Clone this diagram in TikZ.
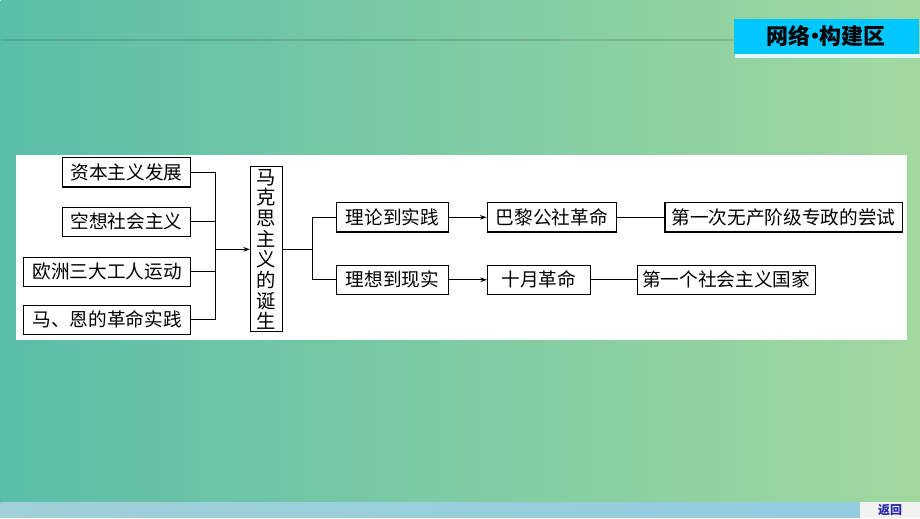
\documentclass[tikz,border=0pt]{standalone}
\usepackage{fontspec}
\newfontfamily\cjk{Noto Sans CJK SC}
\usetikzlibrary{arrows.meta, positioning}
\definecolor{bgleft}{RGB}{90,190,168}
\definecolor{bgright}{RGB}{162,216,160}
\definecolor{titlecyan}{RGB}{0,200,255}
\definecolor{stripleft}{RGB}{160,208,216}
\definecolor{stripright}{RGB}{144,204,224}
\definecolor{backblue}{RGB}{40,40,170}

\begin{document}
\begin{tikzpicture}[x=0.75pt, y=-0.75pt,
    box/.style={draw, line width=0.8pt, fill=white, inner sep=0pt,
        minimum height=22pt, font=\cjk\fontsize{14}{16}\selectfont},
    link/.style={line width=0.8pt},
    push/.style={line width=0.8pt, -{Stealth[length=5pt, width=3.5pt]}}]
    % Background
    \shade[left color=bgleft, right color=bgright] (0, 0) rectangle (920, 518);
    \draw[black, opacity=0.12, line width=1pt] (0, 40) -- (735, 40);
    \shade[left color=stripleft, right color=stripright] (0, 503) rectangle (920, 518);

    % Title
    \fill[white!88!titlecyan] (735, 54) rectangle (920, 58);
    \node[fill=titlecyan, inner sep=0pt, minimum width=138.75pt, minimum height=26pt,
        font=\cjk\bfseries\fontsize{16.5}{18}\selectfont] (title) at (826, 36.5)
        {网络\kern-5pt·\kern-5pt构建区};

    % Back button
    \node[fill=white!95!black, inner sep=0pt, minimum width=45pt, minimum height=12pt,
        text=backblue, font=\cjk\bfseries\fontsize{9}{10}\selectfont] (back) at (890, 510.5) {返回};

    % Panel
    \fill[white] (15, 155) rectangle (907, 340);

    % Causes
    \node[box, minimum width=96pt] (capital) at (126, 172.5) {资本主义发展};
    \node[box, minimum width=96pt] (utopia) at (126, 222) {空想社会主义};
    \node[box, minimum width=125pt] (workers) at (106.5, 272) {欧洲三大工人运动};
    \node[box, minimum width=125pt] (practice) at (106.5, 320) {马、恩的革命实践};

    % Birth of Marxism
    \node[box, minimum width=24pt, minimum height=124pt, align=center,
        font=\cjk\fontsize{14.5}{15.5}\selectfont] (birth) at (266, 249.5)
        {马\\克\\思\\主\\义\\的\\诞\\生};
    \coordinate (join) at (215, 249.5);
    \draw[link] (capital.east) -| (join);
    \draw[link] (utopia.east) -| (join);
    \draw[link] (workers.east) -| (join);
    \draw[link] (practice.east) -| (join);
    \draw[push] (join) -- (birth.west);

    % Two branches
    \node[box, minimum width=84pt] (theory) at (392, 217.5) {理论到实践};
    \node[box, minimum width=84pt] (ideal) at (392, 280) {理想到现实};
    \coordinate (fork) at (312, 249.5);
    \draw[link] (birth.east) -- (fork);
    \draw[link] (fork) |- (theory.west);
    \draw[link] (fork) |- (ideal.west);

    % Paris Commune
    \node[box, minimum width=97pt] (paris) at (551.5, 217.5) {巴黎公社革命};
    \node[box, minimum width=178pt] (attempt) at (783.5, 217.5) {第一次无产阶级专政的尝试};
    \draw[push] (theory) -- (paris);
    \draw[link] (paris) -- (attempt);

    % October Revolution
    \node[box, minimum width=77pt] (october) at (538.5, 280) {十月革命};
    \node[box, minimum width=133.5pt] (state) at (726, 280) {第一个社会主义国家};
    \draw[push] (ideal) -- (october);
    \draw[link] (october) -- (state);
\end{tikzpicture}
\end{document}
